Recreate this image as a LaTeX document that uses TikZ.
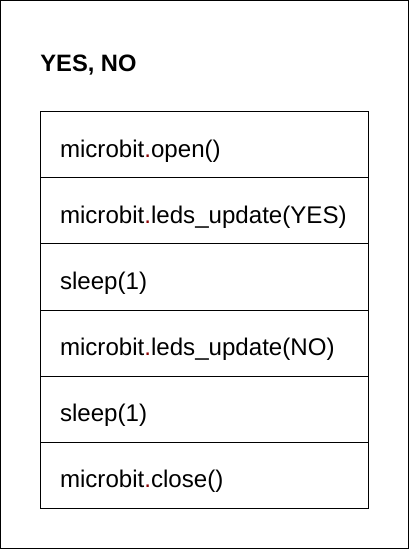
\documentclass[tikz,border=0pt]{standalone}
\usepackage{fontspec}
\setmainfont{Liberation Sans}
\usetikzlibrary{positioning}
\definecolor{dotred}{RGB}{140,0,0}
\newcommand{\mbdot}{\textcolor{dotred}{.}}
\tikzset{
	stepbox/.style={draw, line width=0.5pt, rectangle, minimum width=164pt, minimum height=33pt,
		inner xsep=10pt, inner ysep=0pt, outer sep=0pt, text width=144pt, align=left,
		text height=13pt, text depth=0.5pt, font=\fontsize{12.05}{14}\selectfont},
}
\begin{document}
\begin{tikzpicture}[x=0.5pt, y=-0.5pt, node distance=0pt]

		\useasboundingbox (0,0) rectangle (409,549);
		\draw[line width=0.5pt] (0.5,0.5) rectangle (408.5,548.5);

		\node[anchor=base west, inner sep=0pt, font=\fontsize{11.85}{14}\selectfont\bfseries] (title) at (40,72) {YES, NO};

		\node[stepbox] (open) at (204,145) {microbit\mbdot open()};
		\node[stepbox, below=of open] (yes) {microbit\mbdot leds\_update(YES)};
		\node[stepbox, below=of yes] (sleepa) {sleep(1)};
		\node[stepbox, below=of sleepa] (no) {microbit\mbdot leds\_update(NO)};
		\node[stepbox, below=of no] (sleepb) {sleep(1)};
		\node[stepbox, below=of sleepb] (close) {microbit\mbdot close()};

	\end{tikzpicture}
\end{document}
